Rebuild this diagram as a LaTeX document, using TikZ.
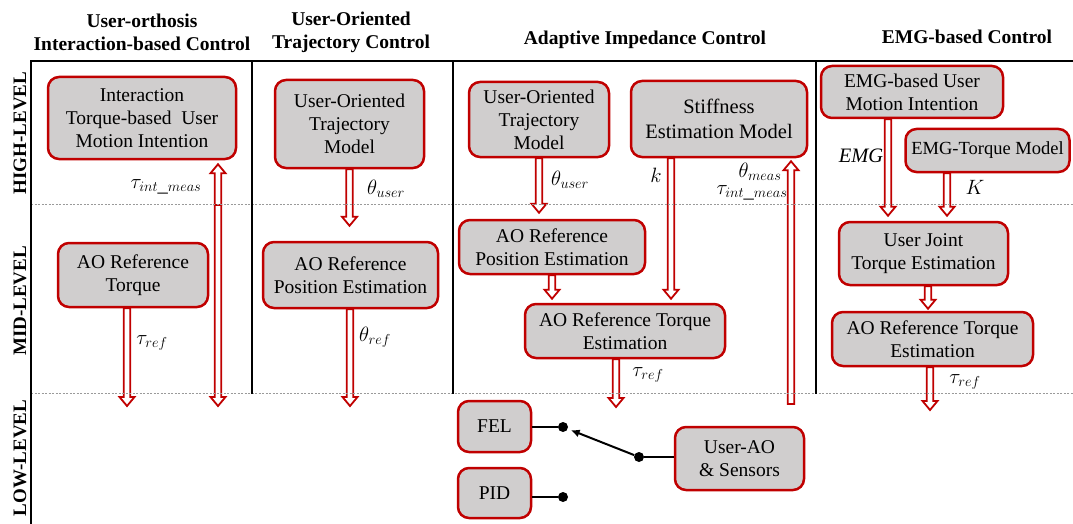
\documentclass[tikz,border=0pt]{standalone}
\usepackage{fontspec}
\setmainfont{Liberation Serif}
\usetikzlibrary{calc,arrows.meta}
\pgfdeclarelayer{arrowlayer}
\pgfsetlayers{arrowlayer,main}
\definecolor{boxred}{HTML}{C00000}
\definecolor{boxgray}{HTML}{D0CECE}
\definecolor{levelgray}{HTML}{9A9A9A}
\tikzset{
  block/.style={draw=boxred, fill=boxgray, line width=2.5pt, rounded corners=11pt,
    align=center, inner sep=0pt, text=black, font=\fontsize{19.5}{23}\selectfont},
  head/.style={align=center, inner sep=0pt, font=\bfseries\fontsize{19.5}{23}\selectfont},
  rowlab/.style={rotate=90, inner sep=0pt, font=\bfseries\fontsize{19}{23}\selectfont},
  lab/.style={inner sep=0pt, font=\fontsize{20.5}{24}\selectfont},
  frameline/.style={draw=black, line width=2pt},
  levelline/.style={draw=levelgray, line width=0.9pt, dash pattern=on 2pt off 1.5pt},
  wire/.style={draw=black, line width=2pt},
  dot/.style={circle, fill=black, minimum size=10pt, inner sep=0pt},
  hollowbase/.style={draw=boxred, fill=white, line width=1.8pt, line join=miter},
  hollowdown/.style={hollowbase, to path={let \p1=(\tikztostart), \p2=(\tikztotarget) in
    ({\x1-3.2pt},\y1) -- ({\x1-3.2pt},{\y2+9pt}) -- ({\x1-7.5pt},{\y2+9pt}) -- (\x1,\y2)
    -- ({\x1+7.5pt},{\y2+9pt}) -- ({\x1+3.2pt},{\y2+9pt}) -- ({\x1+3.2pt},\y1) -- cycle}},
  hollowup/.style={hollowbase, to path={let \p1=(\tikztostart), \p2=(\tikztotarget) in
    ({\x1-3.2pt},\y1) -- ({\x1-3.2pt},{\y2-9pt}) -- ({\x1-7.5pt},{\y2-9pt}) -- (\x1,\y2)
    -- ({\x1+7.5pt},{\y2-9pt}) -- ({\x1+3.2pt},{\y2-9pt}) -- ({\x1+3.2pt},\y1) -- cycle}},
}
\begin{document}
\begin{tikzpicture}[x=1pt,y=-1pt]
\useasboundingbox (0,0) rectangle (1073,524);

% column headings
\node[head] (h1) at (142,32.5) {User-orthosis\\Interaction-based Control};
\node[head] (h2) at (351,32.5) {User-Oriented\\Trajectory Control};
\node[head] (h3) at (645,40) {Adaptive Impedance Control};
\node[head] (h4) at (967,37) {EMG-based Control};

% level names
\node[rowlab] (r1) at (20,133) {HIGH-LEVEL};
\node[rowlab] (r2) at (20,301) {MID-LEVEL};
\node[rowlab] (r3) at (20,458) {LOW-LEVEL};

% level separators and column frame
\draw[levelline] (31,204.5) -- (1073,204.5);
\draw[levelline] (31,393) -- (1073,393);
\draw[frameline] (31,524) -- (31,61) -- (1073,61);
\draw[frameline] (252,61) -- (252,394);
\draw[frameline] (453,61) -- (453,394);
\draw[frameline] (816,61) -- (816,394);

% interaction-based control
\node[block, minimum width=188pt, minimum height=82pt] (imi) at (142,118)
  {Interaction\\Torque-based~ User\\Motion Intention};
\node[block, minimum width=150pt, minimum height=64pt] (art1) at (133,275)
  {AO Reference\\Torque};

% user-oriented trajectory control
\node[block, minimum width=149pt, minimum height=88pt] (uot2) at (349.5,124)
  {User-Oriented\\Trajectory\\Model};
\node[block, minimum width=175pt, minimum height=66pt] (arp2) at (350.5,275)
  {AO Reference\\Position Estimation};

% adaptive impedance control
\node[block, minimum width=140pt, minimum height=75pt] (uot3) at (539,119.5)
  {User-Oriented\\Trajectory\\Model};
\node[block, minimum width=176pt, minimum height=76pt, font=\fontsize{20.5}{25}\selectfont] (sem) at (719,119)
  {Stiffness\\Estimation Model};
\node[block, minimum width=186pt, minimum height=54pt] (arp3) at (552,247)
  {AO Reference\\Position Estimation};
\node[block, minimum width=200pt, minimum height=54pt] (art3) at (625,331)
  {AO Reference Torque\\Estimation};
\node[block, minimum width=73pt, minimum height=51pt] (fel) at (494.5,426.5) {FEL};
\node[block, minimum width=73pt, minimum height=50pt] (pid) at (494.5,493) {PID};
\node[block, minimum width=129pt, minimum height=63pt] (uao) at (739.5,458.5)
  {User-AO\\\& Sensors};

% EMG-based control
\node[block, minimum width=182pt, minimum height=52pt] (emgi) at (912,92)
  {EMG-based User\\Motion Intention};
\node[block, minimum width=164pt, minimum height=43pt, font=\fontsize{18.5}{22}\selectfont] (emgt) at (987.5,150.5)
  {EMG-Torque Model};
\node[block, minimum width=169pt, minimum height=63pt] (ujt) at (923.5,253.5)
  {User Joint\\Torque Estimation};
\node[block, minimum width=201pt, minimum height=54pt] (art4) at (932.5,339)
  {AO Reference Torque\\Estimation};

% free ends and shaft positions of the signal arrows
\coordinate (c1low) at (127,406);
\coordinate (c1split) at (218,205);
\coordinate (c1bot) at (218,406);
\coordinate (c2low) at (350,406);
\coordinate (xk) at (671,0);
\coordinate (c3low) at (616,407);
\coordinate (c3fb) at (791,404);
\coordinate (xemg) at (888,0);
\coordinate (xK) at (947,0);
\coordinate (x4) at (928,0);
\coordinate (c4low) at (930,410);
\coordinate (t1up) at ($(c1split |- imi.south)+(0,4)$);
\coordinate (t2u) at ($(uot2.south |- arp2.north)+(0,-15)$);
\coordinate (t3u) at ($(uot3.south |- arp3.north)+(0,-6)$);
\coordinate (t3k) at ($(xk |- art3.north)+(0,-4)$);
\coordinate (t3p) at ($(arp3.south |- art3.north)+(0,-4)$);
\coordinate (t3fb) at ($(c3fb |- sem.south)+(0,3)$);
\coordinate (t4e) at ($(xemg |- ujt.north)+(0,-5)$);
\coordinate (t4k) at ($(xK |- ujt.north)+(0,-5)$);
\coordinate (t4j) at ($(x4 |- art4.north)+(0,-2)$);

\begin{pgfonlayer}{arrowlayer}
  \draw[hollowdown] (art1.south -| c1low) to (c1low);
  \draw[hollowup] (c1split) to (t1up);
  \draw[hollowdown] (c1split) to (c1bot);
  \draw[hollowdown] (uot2.south) to (t2u);
  \draw[hollowdown] (arp2.south -| c2low) to (c2low);
  \draw[hollowdown] (uot3.south) to (t3u);
  \draw[hollowdown] (sem.south -| xk) to (t3k);
  \draw[hollowdown] (arp3.south) to (t3p);
  \draw[hollowdown] (art3.south -| c3low) to (c3low);
  \draw[hollowup] (c3fb) to (t3fb);
  \draw[hollowdown] (emgi.south -| xemg) to (t4e);
  \draw[hollowdown] (emgt.south -| xK) to (t4k);
  \draw[hollowdown] (ujt.south -| x4) to (t4j);
  \draw[hollowdown] (art4.south -| c4low) to (c4low);
\end{pgfonlayer}

% signal names
\node[lab] (l1) at (166,187) {$\tau_{int\_meas}$};
\node[lab] (l2) at (152,343) {$\tau_{ref}$};
\node[lab] (l3) at (386,189) {$\theta_{user}$};
\node[lab] (l4) at (375,337) {$\theta_{ref}$};
\node[lab] (l5) at (570,180) {$\theta_{user}$};
\node[lab] (l6) at (656,175) {$k$};
\node[lab] (l7) at (760,172) {$\theta_{meas}$};
\node[lab] (l8) at (752,193) {$\tau_{int\_meas}$};
\node[lab] (l9) at (648,375) {$\tau_{ref}$};
\node[lab] (l10) at (861,156) {$\mathit{EMG}$};
\node[lab] (l11) at (975,187) {$K$};
\node[lab] (l12) at (965,382) {$\tau_{ref}$};

% low-level switch between FEL and PID
\node[dot] (d1) at (563,427) {};
\node[dot] (d2) at (563,497) {};
\node[dot] (d3) at (639,457) {};
\draw[wire] (fel.east |- d1) -- (d1);
\draw[wire] (pid.east |- d2) -- (d2);
\draw[wire] (d3) -- (uao.west |- d3);
\draw[wire, -{Latex[length=9pt,width=8pt]}, shorten >=3pt] (d3) -- (d1);
\end{tikzpicture}
\end{document}
